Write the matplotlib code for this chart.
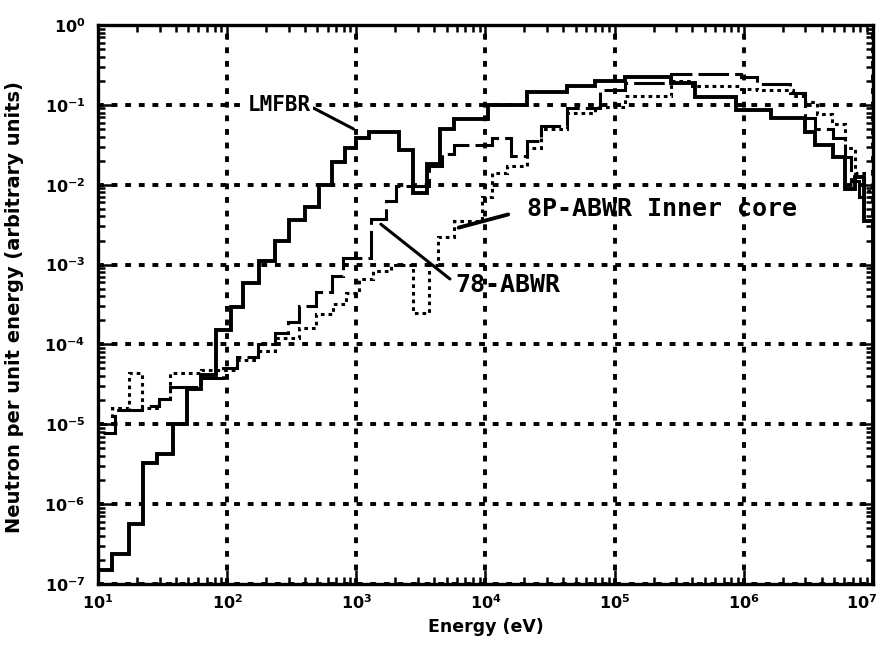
import numpy as np
import matplotlib
matplotlib.use("Agg")
import matplotlib.pyplot as plt
import matplotlib.transforms as mtransforms
from matplotlib.ticker import LogLocator, FixedLocator, NullFormatter

# group boundaries, as decade exponents of energy (eV)
lmfbr_edges_exp = [1.00, 1.11, 1.24, 1.35, 1.46, 1.58, 1.69, 1.80, 1.91, 2.03,
                   2.12, 2.25, 2.37, 2.48, 2.60, 2.71, 2.81, 2.91, 3.00, 3.10,
                   3.33, 3.44, 3.55, 3.65, 3.76, 4.02, 4.32, 4.63, 4.85, 5.08,
                   5.44, 5.62, 5.94, 6.21, 6.47, 6.55, 6.69, 6.78, 6.86, 6.93, 7.00]
lmfbr_flux = [1.5e-7, 2.4e-7, 5.6e-7, 3.3e-6, 4.2e-6, 1.0e-5, 2.8e-5, 4.1e-5, 1.5e-4, 2.9e-4,
              5.9e-4, 1.1e-3, 2.0e-3, 3.6e-3, 5.3e-3, 1.0e-2, 1.9e-2, 2.9e-2, 3.8e-2, 4.6e-2,
              2.7e-2, 7.8e-3, 1.8e-2, 5.0e-2, 6.6e-2, 1.0e-1, 1.45e-1, 1.7e-1, 2.0e-1, 2.2e-1,
              1.9e-1, 1.26e-1, 8.7e-2, 6.9e-2, 4.6e-2, 3.1e-2, 2.2e-2, 8.9e-3, 1.26e-2, 3.5e-3]

abwr78_edges_exp = [1.00, 1.13, 1.34, 1.47, 1.56, 1.80, 1.97, 2.08, 2.24, 2.37,
                    2.47, 2.56, 2.69, 2.81, 2.90, 3.11, 3.23, 3.31, 3.56, 3.66,
                    3.76, 4.05, 4.20, 4.32, 4.43, 4.63, 4.89, 5.08, 5.44, 5.98,
                    6.10, 6.36, 6.47, 6.55, 6.69, 6.78, 6.83, 6.89, 7.00]
abwr78_flux = [7.7e-6, 1.5e-5, 1.7e-5, 2.1e-5, 2.9e-5, 3.8e-5, 5.0e-5, 6.9e-5, 1.0e-4,
               1.4e-4, 1.9e-4, 3.0e-4, 4.5e-4, 7.2e-4, 1.2e-3, 3.7e-3, 6.2e-3, 9.5e-3,
               1.7e-2, 2.4e-2, 3.1e-2, 3.8e-2, 2.3e-2, 3.5e-2, 5.4e-2, 9.1e-2, 1.55e-1,
               1.9e-1, 2.4e-1, 2.2e-1, 1.8e-1, 1.4e-1, 6.9e-2, 5.0e-2, 3.8e-2, 2.2e-2,
               1.1e-2, 7.1e-3]

abwr8p_edges_exp = [1.00, 1.11, 1.24, 1.34, 1.47, 1.56, 1.80, 2.08, 2.24, 2.37,
                    2.56, 2.69, 2.82, 2.92, 3.02, 3.13, 3.27, 3.44, 3.56, 3.63,
                    3.76, 3.97, 4.05, 4.17, 4.32, 4.43, 4.63, 4.85, 5.08, 5.44,
                    5.60, 5.98, 6.10, 6.38, 6.47, 6.57, 6.68, 6.78, 6.86, 6.93, 7.00]
abwr8p_flux = [1.0e-5, 1.6e-5, 4.4e-5, 1.6e-5, 2.1e-5, 4.4e-5, 4.8e-5, 6.3e-5, 8.3e-5,
               1.2e-4, 1.6e-4, 2.4e-4, 3.2e-4, 4.4e-4, 6.6e-4, 8.3e-4, 1.0e-3, 2.5e-4,
               1.0e-3, 2.2e-3, 3.5e-3, 7.1e-3, 1.4e-2, 1.7e-2, 2.9e-2, 5.0e-2, 7.9e-2,
               9.5e-2, 1.3e-1, 2.0e-1, 1.7e-1, 1.6e-1, 1.55e-1, 1.3e-1, 1.1e-1, 7.6e-2,
               5.8e-2, 2.9e-2, 1.4e-2, 8.3e-3]

x_tick_exp = [1, 2, 3, 4, 5, 6, 7]
y_tick_exp = [-7, -6, -5, -4, -3, -2, -1, 0]

fig = plt.figure(figsize=(8.85, 6.47), dpi=100)
ax = fig.add_axes([0.1107, 0.0974, 0.8757, 0.864])
ax.set_xscale("log")
ax.set_yscale("log")
ax.set_xlim(1e1, 1e7)
ax.set_ylim(1e-7, 1e0)

# spectra as step histograms
ax.stairs(lmfbr_flux, 10.0 ** np.array(lmfbr_edges_exp), color="black", lw=2.8)
ax.stairs(abwr78_flux, 10.0 ** np.array(abwr78_edges_exp), color="black", lw=2.2,
          linestyle=(0, (10, 2)))
ax.stairs(abwr8p_flux, 10.0 ** np.array(abwr8p_edges_exp), color="black", lw=2.2,
          linestyle=(0, (1.2, 1.3)))

# heavy dotted grid like the scan
ax.grid(True, which="major", color="black", lw=2.8, linestyle=(0, (1.5, 2.0)))

for side in ax.spines.values():
    side.set_linewidth(2.4)

ax.xaxis.set_major_locator(FixedLocator([10.0 ** e for e in x_tick_exp]))
ax.yaxis.set_major_locator(FixedLocator([10.0 ** e for e in y_tick_exp]))
ax.xaxis.set_minor_locator(LogLocator(base=10, subs=np.arange(2, 10)))
ax.yaxis.set_minor_locator(LogLocator(base=10, subs=np.arange(2, 10)))
ax.xaxis.set_minor_formatter(NullFormatter())
ax.yaxis.set_minor_formatter(NullFormatter())
ax.set_xticklabels([r"$\mathbf{10^{%d}}$" % e for e in x_tick_exp])
ax.set_yticklabels([r"$\mathbf{10^{%d}}$" % e for e in y_tick_exp])
ax.tick_params(which="both", direction="in", top=True, right=True, width=1.8)
ax.tick_params(which="major", length=10, labelsize=11.5)
ax.tick_params(which="minor", length=5)
ax.tick_params(axis="x", pad=7)
ax.tick_params(axis="y", pad=9)

# keep the last energy label inside the figure
last = ax.get_xticklabels()[-1]
last.set_transform(last.get_transform()
                   + mtransforms.ScaledTranslation(-8 / 72, 0, fig.dpi_scale_trans))

ax.set_xlabel("Energy (eV)", fontsize=12.5, fontweight="bold")
ax.set_ylabel("Neutron per unit energy (arbitrary units)", fontsize=14,
              fontweight="bold")
ax.xaxis.set_label_coords(0.5, -0.06)
ax.yaxis.set_label_coords(-0.095, 0.495)

lab = dict(family="DejaVu Sans Mono", fontweight="bold", zorder=5)
ax.annotate("LMFBR", xy=(9.5e2, 5.0e-2), xytext=(1.45e2, 1.0e-1),
            va="center", ha="left", fontsize=15, **lab,
            bbox=dict(boxstyle="square,pad=0.1", fc="white", ec="none"),
            arrowprops=dict(arrowstyle="-", color="black", lw=2.2,
                            shrinkA=0, shrinkB=0, relpos=(1, 0.4)))
ax.annotate("78-ABWR", xy=(1.55e3, 3.2e-3), xytext=(5.8e3, 5.5e-4),
            va="center", ha="left", fontsize=18, **lab,
            arrowprops=dict(arrowstyle="-", color="black", lw=2.2,
                            shrinkA=2, shrinkB=0, relpos=(0, 0.6)))
ax.annotate("8P-ABWR Inner core", xy=(6.2e3, 2.9e-3), xytext=(2.1e4, 4.9e-3),
            va="center", ha="left", fontsize=18, **lab,
            arrowprops=dict(arrowstyle="-", color="black", lw=2.8,
                            shrinkA=12, shrinkB=0, relpos=(0, 0.5)))

fig.savefig("out.png", dpi=100)
